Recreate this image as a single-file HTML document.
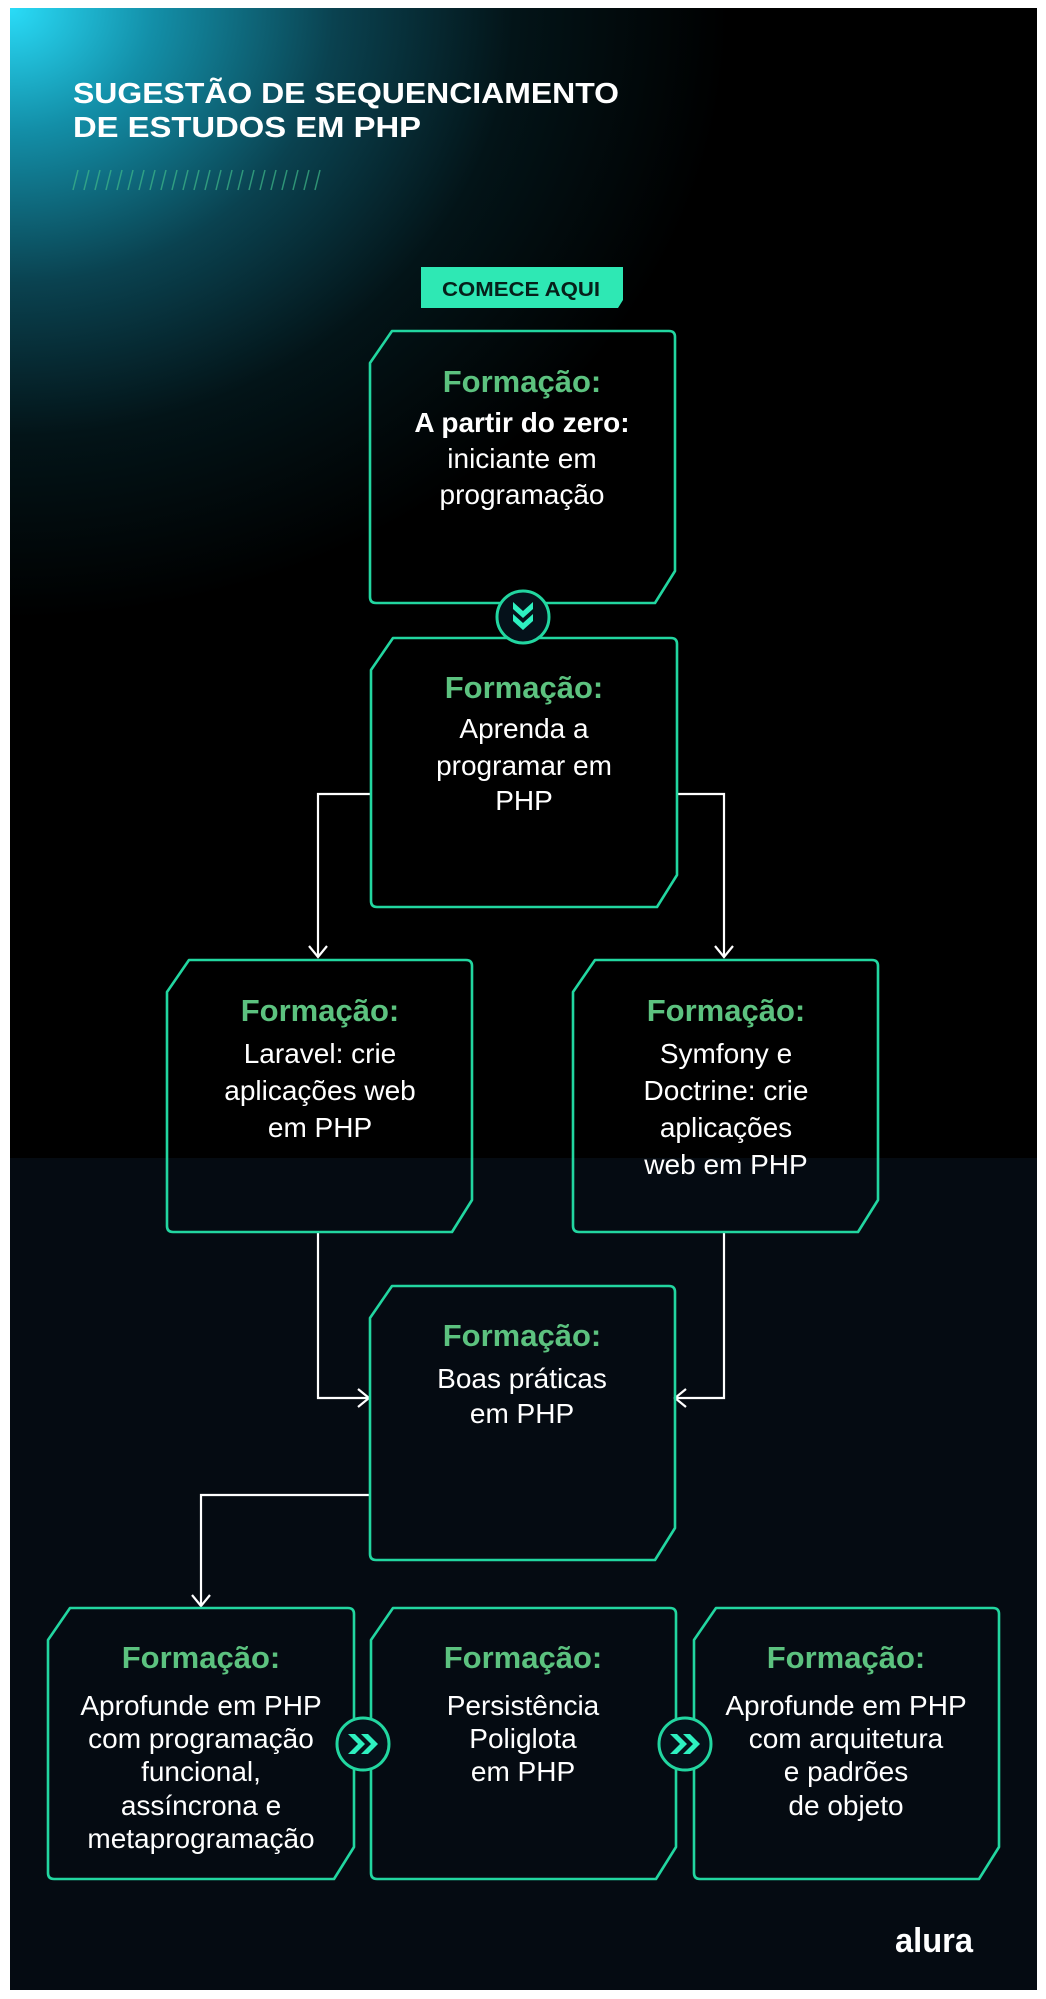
<!DOCTYPE html>
<html><head><meta charset="utf-8">
<style>
html,body{margin:0;padding:0;background:#fff;}
body{width:1046px;height:1999px;position:relative;overflow:hidden;}
svg{position:absolute;left:0;top:0;}
text{font-family:"Liberation Sans",sans-serif;}
</style></head>
<body>
<svg width="1046" height="1999" viewBox="0 0 1046 1999">
<defs>
<radialGradient id="glow" cx="10" cy="8" r="720" gradientUnits="userSpaceOnUse" gradientTransform="translate(10 8) scale(1 0.85) translate(-10 -8)">
<stop offset="0" stop-color="#2adcf8"/>
<stop offset="0.2" stop-color="#138fa8"/>
<stop offset="0.45" stop-color="#0a4250"/>
<stop offset="0.7" stop-color="#031418"/>
<stop offset="1" stop-color="#000"/>
</radialGradient>
<g id="chevD"><circle r="26" fill="#05111a" stroke="#22d6a0" stroke-width="3"/>
<path d="M-10,-12 L0,-3 L10,-12 L10,-5 L0,4 L-10,-5Z M-10,0 L0,9 L10,0 L10,7 L0,16 L-10,7Z" fill="#2ef0c0" transform="translate(0,-3)"/></g>
<g id="chevR"><circle r="26" fill="#05111a" stroke="#22d6a0" stroke-width="3"/>
<path d="M-14,-10 L-4,0 L-14,10 L-7,10 L3,0 L-7,-10Z M-1,-10 L9,0 L-1,10 L6,10 L16,0 L6,-10Z" fill="#2ef0c0" transform="translate(-1,0)"/></g>
</defs>
<rect x="10" y="8" width="1027" height="1982" fill="#000"/>
<rect x="10" y="1158" width="1027" height="832" fill="#050b12"/>
<rect x="10" y="8" width="1027" height="1150" fill="url(#glow)"/>
<text x="73" y="103" font-size="29" font-weight="bold" fill="#fff" textLength="546" lengthAdjust="spacingAndGlyphs">SUGESTÃO DE SEQUENCIAMENTO</text>
<text x="73" y="137" font-size="29" font-weight="bold" fill="#fff" textLength="348" lengthAdjust="spacingAndGlyphs">DE ESTUDOS EM PHP</text>
<g stroke="#3fb98a" stroke-width="1.5" opacity="0.7">
<path d="M78,170 l-5,20 M89,170 l-5,20 M100,170 l-5,20 M111,170 l-5,20 M122,170 l-5,20 M133,170 l-5,20 M144,170 l-5,20 M155,170 l-5,20 M166,170 l-5,20 M177,170 l-5,20 M188,170 l-5,20 M199,170 l-5,20 M210,170 l-5,20 M221,170 l-5,20 M232,170 l-5,20 M243,170 l-5,20 M254,170 l-5,20 M265,170 l-5,20 M276,170 l-5,20 M287,170 l-5,20 M298,170 l-5,20 M309,170 l-5,20 M320,170 l-5,20"/>
</g>
<path d="M421,267 H623 V300 L618,308 H421Z" fill="#2ee8b4"/>
<text x="521" y="296" font-size="20" font-weight="bold" fill="#06201a" text-anchor="middle" textLength="158" lengthAdjust="spacingAndGlyphs">COMECE AQUI</text>

<g stroke="#fff" stroke-width="2.2" fill="none">
<path d="M370,794 H318 V956"/><path d="M309,946 L318,957 L327,946"/>
<path d="M676,794 H724 V956"/><path d="M715,946 L724,957 L733,946"/>
<path d="M318,1232 V1398 H368"/><path d="M358,1389 L369,1398 L358,1407"/>
<path d="M724,1232 V1398 H676"/><path d="M686,1389 L675,1398 L686,1407"/>
<path d="M370,1495 H201 V1605"/><path d="M192,1595 L201,1606 L210,1595"/>
</g>

<g fill="none" stroke="#22d6a0" stroke-width="2.6" stroke-linejoin="round">
<path d="M392,331 H669 Q675,331 675,337 V571 L655,603 H376 Q370,603 370,597 V363 Z"/>
<path d="M393,638 H671 Q677,638 677,644 V875 L657,907 H377 Q371,907 371,901 V670 Z"/>
<path d="M189,960 H466 Q472,960 472,966 V1200 L452,1232 H173 Q167,1232 167,1226 V992 Z"/>
<path d="M595,960 H872 Q878,960 878,966 V1200 L858,1232 H579 Q573,1232 573,1226 V992 Z"/>
<path d="M392,1286 H669 Q675,1286 675,1292 V1528 L655,1560 H376 Q370,1560 370,1554 V1318 Z"/>
<path d="M70,1608 H348 Q354,1608 354,1614 V1847 L334,1879 H54 Q48,1879 48,1873 V1640 Z"/>
<path d="M393,1608 H670 Q676,1608 676,1614 V1847 L656,1879 H377 Q371,1879 371,1873 V1640 Z"/>
<path d="M716,1608 H993 Q999,1608 999,1614 V1847 L979,1879 H700 Q694,1879 694,1873 V1640 Z"/>
</g>
<use href="#chevD" x="523" y="617"/>
<use href="#chevR" x="363" y="1744"/>
<use href="#chevR" x="685" y="1744"/>

<g font-size="28" fill="#fff" text-anchor="middle">
<g font-weight="bold" font-size="31" fill="#5cc27f">
<text x="522" y="392">Formação:</text>
<text x="524" y="698">Formação:</text>
<text x="320" y="1021">Formação:</text>
<text x="726" y="1021">Formação:</text>
<text x="522" y="1346">Formação:</text>
<text x="201" y="1668">Formação:</text>
<text x="523" y="1668">Formação:</text>
<text x="846" y="1668">Formação:</text>
</g>
<text x="522" y="432" font-weight="bold">A partir do zero:</text>
<text x="522" y="468">iniciante em</text>
<text x="522" y="504">programação</text>

<text x="524" y="738">Aprenda a</text>
<text x="524" y="775">programar em</text>
<text x="524" y="810">PHP</text>

<text x="320" y="1063">Laravel: crie</text>
<text x="320" y="1100">aplicações web</text>
<text x="320" y="1137">em PHP</text>

<text x="726" y="1063">Symfony e</text>
<text x="726" y="1100">Doctrine: crie</text>
<text x="726" y="1137">aplicações</text>
<text x="726" y="1174">web em PHP</text>

<text x="522" y="1388">Boas práticas</text>
<text x="522" y="1423">em PHP</text>

<text x="201" y="1715">Aprofunde em PHP</text>
<text x="201" y="1748">com programação</text>
<text x="201" y="1781">funcional,</text>
<text x="201" y="1815">assíncrona e</text>
<text x="201" y="1848">metaprogramação</text>

<text x="523" y="1715">Persistência</text>
<text x="523" y="1748">Poliglota</text>
<text x="523" y="1781">em PHP</text>

<text x="846" y="1715">Aprofunde em PHP</text>
<text x="846" y="1748">com arquitetura</text>
<text x="846" y="1781">e padrões</text>
<text x="846" y="1815">de objeto</text>
</g>
<text x="934" y="1952" font-size="34" font-weight="bold" fill="#fff" text-anchor="middle" textLength="78" lengthAdjust="spacingAndGlyphs">alura</text>
</svg>
</body></html>
